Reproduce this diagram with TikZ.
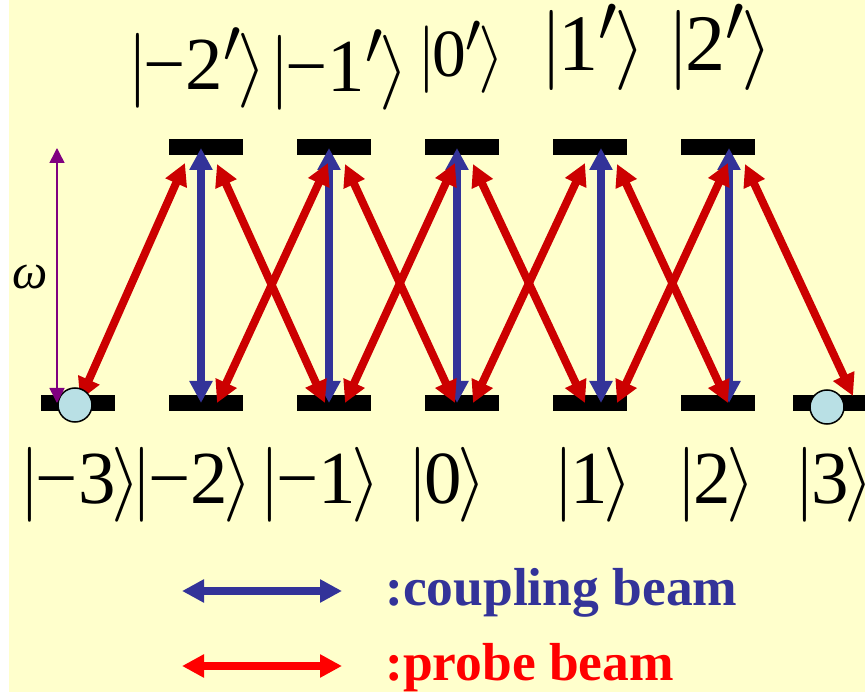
\documentclass[tikz,border=0pt]{standalone}
\usepackage{fontspec}
\setmainfont{Liberation Serif}
\usetikzlibrary{arrows.meta,calc}
\definecolor{paleyellow}{RGB}{255,255,204}
\definecolor{coupblue}{RGB}{51,51,153}
\definecolor{probered}{RGB}{204,0,0}
\definecolor{legendred}{RGB}{255,0,0}
\definecolor{atomcyan}{RGB}{185,224,229}
\definecolor{omegapurple}{RGB}{128,0,128}
\newcommand{\ketlab}[1]{$|\mkern-1mu$#1$\mkern-1mu\rangle$}

\begin{document}
\begin{tikzpicture}[
      x=1pt, y=-1pt,
      level/.style={fill=black, minimum width=74pt, minimum height=16pt, inner sep=0pt},
      coupling/.style={{Triangle[length=22pt,width=22pt]}-{Triangle[length=22pt,width=22pt]},
                  line width=8pt, draw=coupblue},
      probe/.style={{Triangle[length=22pt,width=22pt]}-{Triangle[length=22pt,width=22pt]},
                  line width=8pt, draw=probered},
      atom/.style={circle, draw=black, line width=1.5pt, fill=atomcyan,
                  minimum size=34pt, inner sep=0pt},
      ket/.style={font=\fontsize{24.88}{28}\selectfont, anchor=base, inner sep=0pt, scale=3.01},
      legend/.style={font=\fontsize{53.5}{58}\selectfont\bfseries, anchor=base west, inner sep=0pt}
    ]
      \useasboundingbox (0,0) rectangle (865,692);
      \fill[paleyellow] (9,0) rectangle (865,692);

      % ground and excited levels
      \node[level] (g-3) at (78,403) {};
      \node[level] (g-2) at (206,403) {};
      \node[level] (g-1) at (334,403) {};
      \node[level] (g0) at (462,403) {};
      \node[level] (g1) at (590,403) {};
      \node[level] (g2) at (718,403) {};
      \node[level] (g3) at (830,403) {};
      \node[level] (e-2) at (206,147) {};
      \node[level] (e-1) at (334,147) {};
      \node[level] (e0) at (462,147) {};
      \node[level] (e1) at (590,147) {};
      \node[level] (e2) at (718,147) {};

      % coupling beam
      \draw[coupling] ($(e-2)+(-5,1)$) -- ($(g-2)+(-5,0)$);
      \draw[coupling] ($(e-1)+(-5,1)$) -- ($(g-1)+(-5,0)$);
      \draw[coupling] ($(e0)+(-5,1)$) -- ($(g0)+(-5,0)$);
      \draw[coupling] ($(e1)+(11,1)$) -- ($(g1)+(11,0)$);
      \draw[coupling] ($(e2)+(11,1)$) -- ($(g2)+(11,0)$);

      % probe beam
      \draw[probe] ($(g-3)+(2,-3)$) -- ($(e-2)+(-21,16)$);
      \draw[probe] ($(e-2)+(11,17)$) -- ($(g-1)+(-9,0)$);
      \draw[probe] ($(g-2)+(11,0)$) -- ($(e-1)+(-6,16)$);
      \draw[probe] ($(e-1)+(11,17)$) -- ($(g0)+(-7,0)$);
      \draw[probe] ($(g-1)+(11,0)$) -- ($(e0)+(-7,16)$);
      \draw[probe] ($(e0)+(11,17)$) -- ($(g1)+(-5,0)$);
      \draw[probe] ($(g0)+(11,0)$) -- ($(e1)+(-5,16)$);
      \draw[probe] ($(e1)+(27,17)$) -- ($(g2)+(10,0)$);
      \draw[probe] ($(g1)+(27,0)$) -- ($(e2)+(10,16)$);
      \draw[probe] ($(e2)+(27,17)$) -- ($(g3)+(23,-7)$);

      \node[atom] (a-3) at (75,405) {};
      \node[atom] (a3) at (827,407) {};

      % frequency
      \coordinate (wtop) at (57,148);
      \coordinate (wbot) at (57,403);
      \draw[{Triangle[length=15pt,width=15pt]}-{Triangle[length=15pt,width=15pt]},
            line width=1.5pt, draw=omegapurple] (wbot) -- (wtop);
      \node[font=\fontsize{50}{54}\selectfont\itshape, inner sep=0pt] (om) at (30,277) {ω};

      % state labels
      \node[ket] (k-3) at (80,503) {\ketlab{−3}};
      \node[ket] (k-2) at (192,503) {\ketlab{−2}};
      \node[ket] (k-1) at (320,503) {\ketlab{−1}};
      \node[ket] (k0) at (447,503) {\ketlab{0}};
      \node[ket] (k1) at (593,503) {\ketlab{1}};
      \node[ket] (k2) at (716,503) {\ketlab{2}};
      \node[ket] (k3) at (834,503) {\ketlab{3}};
      \node[ket] (k-2p) at (197,90) {\ketlab{−2$'$}};
      \node[ket] (k-1p) at (339,92) {\ketlab{−1$'$}};
      \node[ket, scale=0.9] (k0p) at (461,77) {\ketlab{0$'$}};
      \node[ket, scale=1.07] (k1p) at (593,71) {\ketlab{1$'$}};
      \node[ket, scale=1.07] (k2p) at (720,71) {\ketlab{2$'$}};

      % legend
      \coordinate (cplL) at (182,591);
      \coordinate (cplR) at (342,591);
      \coordinate (prbL) at (182,666);
      \coordinate (prbR) at (342,666);
      \draw[coupling, line width=7.5pt] (cplL) -- (cplR);
      \draw[probe, draw=legendred, line width=7.5pt] (prbL) -- (prbR);
      \node[legend, text=coupblue] (cpltxt) at (385,605) {:coupling beam};
      \node[legend, text=legendred] (prbtxt) at (385,680) {:probe beam};
    \end{tikzpicture}
\end{document}
